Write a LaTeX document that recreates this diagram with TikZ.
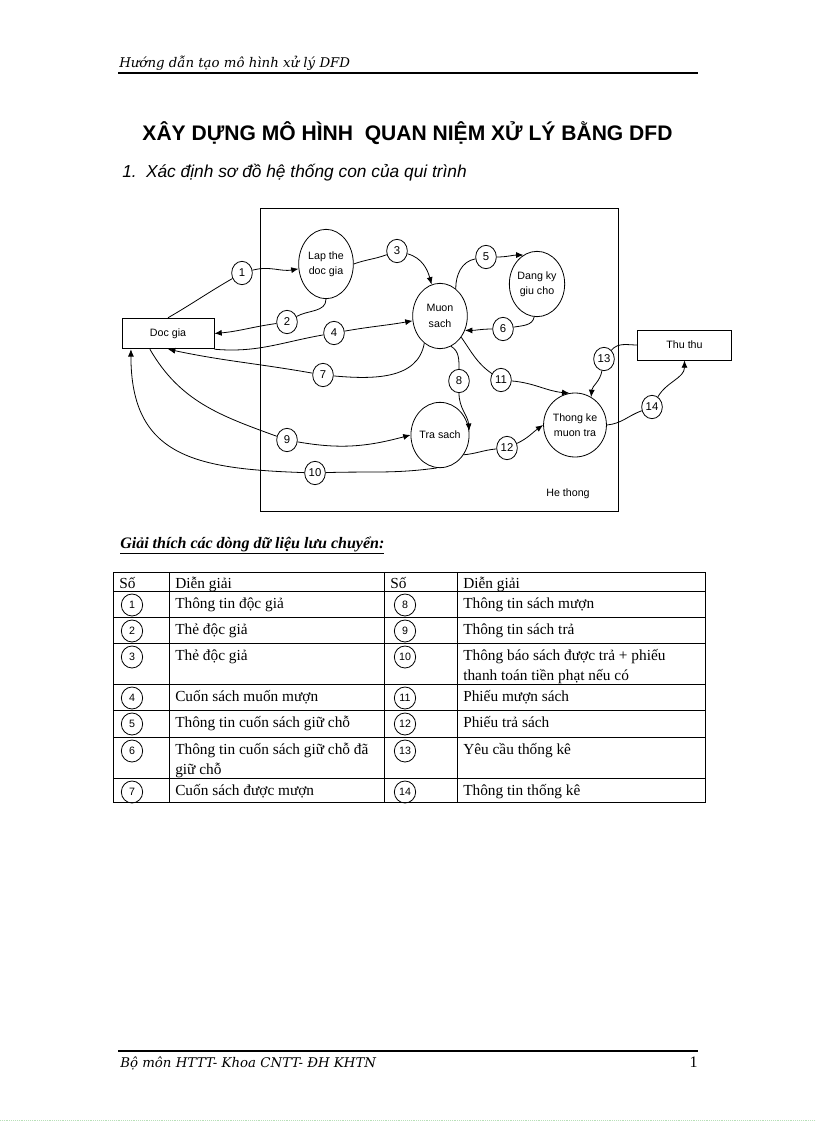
\documentclass[tikz,border=0pt]{standalone}
\usepackage{fontspec}
\setmainfont{Liberation Serif}
\newfontfamily\arialfont{Liberation Sans}
\newfontfamily\headfont{DejaVu Serif}
\usepackage{tikz}
\usetikzlibrary{arrows.meta}
\usetikzlibrary{shapes}
\usetikzlibrary{calc}

\tikzset{
  proc/.style={ellipse,draw,line width=0.6pt,inner sep=0pt,minimum width=41pt,minimum height=49pt,align=center,font=\arialfont\fontsize{8}{11.5}\selectfont},
  ext/.style={rectangle,draw,line width=0.6pt,minimum width=69pt,minimum height=23pt,font=\arialfont\fontsize{8}{10}\selectfont},
  num/.style={ellipse,draw,fill=white,line width=0.6pt,inner sep=0pt,minimum width=15.5pt,minimum height=17.5pt,font=\arialfont\fontsize{8.5}{9}\selectfont},
  tnum/.style={ellipse,draw,line width=0.6pt,inner sep=0pt,minimum width=16pt,minimum height=16.5pt,font=\arialfont\fontsize{8}{9}\selectfont},
  cell/.style={anchor=base west,inner sep=0pt,font=\fontsize{11.5}{14}\selectfont},
  arr/.style={-{Latex[length=5.5pt,width=4.5pt]}}
}

\begin{document}
\begin{tikzpicture}[x=0.75pt,y=0.75pt]
        \path[fill=white,use as bounding box] (0,0) rectangle (816,-1123);

        \node[anchor=base west,inner sep=0pt,font=\headfont\itshape\fontsize{10}{12}\selectfont] (head) at (119,-68) {Hướng dẫn tạo mô hình xử lý DFD};
        \draw[line width=0.8pt] (118,-73) -- (698,-73);
        \node[anchor=base,inner sep=0pt,font=\arialfont\bfseries\fontsize{15.8}{19}\selectfont] (title) at (407.5,-141) {XÂY DỰNG MÔ HÌNH\ \ QUAN NIỆM XỬ LÝ BẰNG DFD};
        \node[anchor=base west,inner sep=0pt,font=\arialfont\itshape\fontsize{13}{16}\selectfont] (sub) at (122,-178) {1.\hspace{7pt}Xác định sơ đồ hệ thống con của qui trình};

        \draw[line width=0.6pt] (260,-208) rectangle (618,-511);
        \node[font=\arialfont\fontsize{8}{10}\selectfont] (hethong) at (568,-494) {He thong};

        \node[ext] (doc) at (168,-333.5) {Doc gia};
        \node[ext,minimum width=70pt,minimum height=22.5pt] (thu) at (684.5,-345) {Thu thu};

        \begin{scope}[every node/.style=proc]
        \node[minimum height=52pt] (lap) at (326,-264) {Lap the\\doc gia};
        \node (muon) at (440,-316) {Muon\\sach};
        \node (dang) at (537,-284) {Dang ky\\giu cho};
        \node (tra) at (440,-435) {Tra sach};
        \node[minimum width=42pt,minimum height=48pt] (thong) at (575,-425) {Thong ke\\muon tra};
        \end{scope}

        \begin{scope}[every node/.style=num]
        \node (n1) at (242,-273) {1};
        \node (n2) at (287,-322) {2};
        \node (n3) at (397,-251) {3};
        \node (n4) at (334,-333) {4};
        \node (n5) at (486,-257) {5};
        \node (n6) at (503,-329) {6};
        \node (n7) at (323,-375) {7};
        \node (n8) at (459,-381) {8};
        \node (n9) at (287,-440) {9};
        \node (n10) at (315,-473) {10};
        \node (n11) at (501,-380) {11};
        \node (n12) at (507,-448) {12};
        \node (n13) at (604,-359) {13};
        \node (n14) at (652,-407) {14};
        \end{scope}

        \begin{scope}[every edge/.style={draw=black,line width=0.6pt}]
        \path (doc.north) edge[out=30,in=210] (n1);
        \path (n1) edge[arr,out=15,in=190] (lap);
        \path (lap.south) edge[out=-90,in=30] (n2);
        \path (n2) edge[arr,out=188,in=5] (doc.east);
        \path (lap.east) edge[out=20,in=200] (n3);
        \path (n3) edge[arr,out=-15,in=105] (muon);
        \path (doc.south east) edge[out=-5,in=190] (n4);
        \path (n4) edge[arr,out=10,in=190] (muon);
        \path (muon.60) edge[out=90,in=190] (n5);
        \path (n5) edge[arr,out=0,in=180] (dang.115);
        \path (dang.-95) edge[out=-100,in=10] (n6);
        \path (n6) edge[arr,out=180,in=0] (muon.-30);
        \path (muon.-120) edge[out=-100,in=-5] (n7);
        \path (n7) edge[arr,out=170,in=-12] (doc.south);
        \path (muon.-70) edge[out=-30,in=90] (n8);
        \path (n8) edge[arr,out=-90,in=95] (tra.8);
        \path (doc.221) edge[out=-60,in=160] (n9);
        \path (n9) edge[arr,out=-10,in=195] (tra.west);
        \path (tra.-95) edge[out=188,in=2] (n10);
        \path (n10) edge[arr,out=178,in=-90,looseness=1.3] (doc.203);
        \path (muon.-45) edge[out=-55,in=145] (n11);
        \path (n11) edge[arr,out=-5,in=175] (thong.100);
        \path (tra.-40) edge[out=5,in=185] (n12);
        \path (n12) edge[arr,out=25,in=215] (thong.west);
        \path (thu.west) edge[out=180,in=50] (n13);
        \path (n13) edge[arr,out=-100,in=85] (thong.60);
        \path (thong.east) edge[out=5,in=200] (n14);
        \path (n14) edge[arr,out=60,in=-90] (thu.south);
        \end{scope}

        \node[anchor=base west,inner sep=0pt,font=\bfseries\itshape\fontsize{12}{14}\selectfont] (giaithich) at (120,-548) {\underline{Giải thích các dòng dữ liệu lưu chuyển:}};

        \draw[line width=0.6pt] (113,-572) rectangle (705,-802)
          (113,-591) -- (705,-591) (113,-617) -- (705,-617) (113,-643) -- (705,-643)
          (113,-684) -- (705,-684) (113,-710) -- (705,-710) (113,-737) -- (705,-737)
          (113,-778) -- (705,-778)
          (169,-572) -- (169,-802) (384,-572) -- (384,-802) (457,-572) -- (457,-802);

        \node[cell] (so1) at (119,-588) {Số};
        \node[cell] (dg1) at (175,-588) {Diễn giải};
        \node[cell] (so2) at (390,-588) {Số};
        \node[cell] (dg2) at (463,-588) {Diễn giải};

        \begin{scope}[every node/.style=tnum]
        \node (c1) at (132,-605) {1};
        \node (c2) at (132,-631) {2};
        \node (c3) at (132,-657) {3};
        \node (c4) at (132,-698) {4};
        \node (c5) at (132,-724) {5};
        \node (c6) at (132,-751) {6};
        \node (c7) at (132,-792) {7};
        \node (c8) at (405,-605) {8};
        \node (c9) at (405,-631) {9};
        \node (c10) at (405,-657) {10};
        \node (c11) at (405,-698) {11};
        \node (c12) at (405,-724) {12};
        \node (c13) at (405,-751) {13};
        \node (c14) at (405,-792) {14};
        \end{scope}

        \begin{scope}[every node/.style=cell]
        \node (t1) at (175,-608) {Thông tin độc giả};
        \node (t2) at (175,-634) {Thẻ độc giả};
        \node (t3) at (175,-660) {Thẻ độc giả};
        \node (t4) at (175,-701) {Cuốn sách muốn mượn};
        \node (t5) at (175,-727) {Thông tin cuốn sách giữ chỗ};
        \node (t6) at (175,-754) {Thông tin cuốn sách giữ chỗ đã};
        \node (t6b) at (175,-774) {giữ chỗ};
        \node (t7) at (175,-795) {Cuốn sách được mượn};
        \node (t8) at (463,-608) {Thông tin sách mượn};
        \node (t9) at (463,-634) {Thông tin sách trả};
        \node (t10) at (463,-660) {Thông báo sách được trả + phiếu};
        \node (t10b) at (463,-680) {thanh toán tiền phạt nếu có};
        \node (t11) at (463,-701) {Phiếu mượn sách};
        \node (t12) at (463,-727) {Phiếu trả sách};
        \node (t13) at (463,-754) {Yêu cầu thống kê};
        \node (t14) at (463,-795) {Thông tin thống kê};
        \end{scope}

        \draw[line width=0.8pt] (118,-1051) -- (698,-1051);
        \node[anchor=base west,inner sep=0pt,font=\headfont\itshape\fontsize{10}{12}\selectfont] (foot) at (120,-1067) {Bộ môn HTTT- Khoa CNTT- ĐH KHTN};
        \node[anchor=base east,inner sep=0pt,font=\fontsize{12}{14}\selectfont] (page) at (698,-1067) {1};
        \draw[densely dotted,green!40!gray!40] (0,-1120) -- (816,-1120);
\end{tikzpicture}
\end{document}
